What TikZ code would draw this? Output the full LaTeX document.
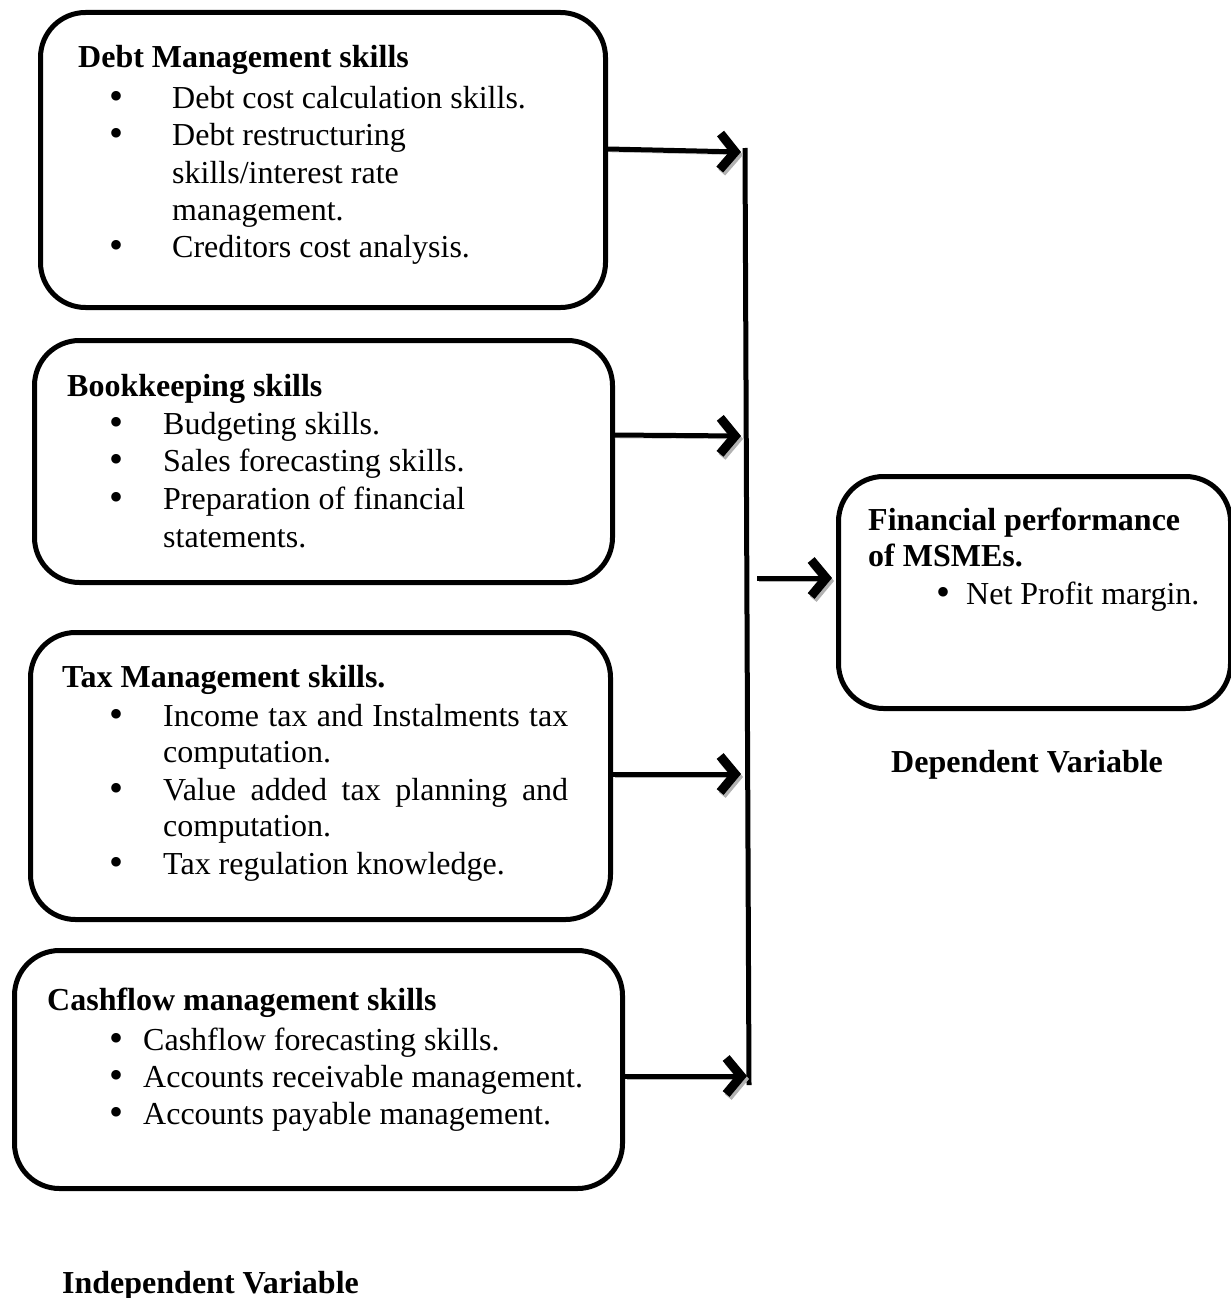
\documentclass[tikz,border=0pt]{standalone}
\usepackage{fontspec}
\setmainfont{Liberation Serif}
\usetikzlibrary{arrows.meta}
\tikzset{
  box/.style={draw, line width=5pt, rounded corners=45pt, anchor=north west, inner sep=0pt},
  txt/.style={anchor=base west, inner sep=0pt, font=\fontsize{32}{37}\selectfont},
  hd/.style={txt, font=\fontsize{32}{37}\selectfont\bfseries},
  bul/.style={anchor=base, inner sep=0pt, font=\fontsize{40}{37}\selectfont},
  arr/.style={line width=5pt, -{Straight Barb[length=15pt,width=36pt,line width=9pt]},
    preaction={draw=gray!60, transform canvas={shift={(2,3)}}}},
  bus/.style={line width=5pt}
}
\begin{document}
\begin{tikzpicture}[x=1pt,y=-1pt]
\useasboundingbox (0,0) rectangle (1231,1298);
% boxes
\node[box, minimum width=565pt, minimum height=295pt] (b1) at (38,10) {};
\node[box, minimum width=578pt, minimum height=242pt] (b2) at (32,338) {};
\node[box, minimum width=580pt, minimum height=287pt] (b3) at (28,630) {};
\node[box, minimum width=608pt, minimum height=238pt] (b4) at (12,948) {};
\node[box, minimum width=392pt, minimum height=232pt] (b5) at (836,474) {};
% box 1 text
\node[hd] (h1) at (78,67) {Debt Management skills};
\node[bul] (p11) at (117,109) {•}; \node[txt] (t11) at (172,108) {Debt cost calculation skills.};
\node[bul] (p12) at (117,146) {•}; \node[txt] (t12) at (172,145) {Debt restructuring};
\node[txt] (t13) at (172,183) {skills/interest rate};
\node[txt] (t14) at (172,220) {management.};
\node[bul] (p13) at (117,258) {•}; \node[txt] (t15) at (172,257) {Creditors cost analysis.};
% box 2 text
\node[hd] (h2) at (67,396) {Bookkeeping skills};
\node[bul] (p21) at (117,435) {•}; \node[txt] (t21) at (163,434) {Budgeting skills.};
\node[bul] (p22) at (117,472) {•}; \node[txt] (t22) at (163,471) {Sales forecasting skills.};
\node[bul] (p23) at (117,510) {•}; \node[txt] (t23) at (163,509) {Preparation of financial};
\node[txt] (t24) at (163,547) {statements.};
% box 3 text
\node[hd] (h3) at (62,687) {Tax Management skills.};
\node[bul] (p31) at (117,727) {•}; \node[txt] (t31) at (163,726) {\makebox[405pt][s]{Income tax and Instalments tax}};
\node[txt] (t32) at (163,762) {computation.};
\node[bul] (p32) at (117,801) {•}; \node[txt] (t33) at (163,800) {\makebox[405pt][s]{Value added tax planning and}};
\node[txt] (t34) at (163,836) {computation.};
\node[bul] (p33) at (117,875) {•}; \node[txt] (t35) at (163,874) {Tax regulation knowledge.};
% box 4 text
\node[hd] (h4) at (47,1010) {Cashflow management skills};
\node[bul] (p41) at (117,1051) {•}; \node[txt] (t41) at (143,1050) {Cashflow forecasting skills.};
\node[bul] (p42) at (117,1088) {•}; \node[txt] (t42) at (143,1087) {Accounts receivable management.};
\node[bul] (p43) at (117,1125) {•}; \node[txt] (t43) at (143,1124) {Accounts payable management.};
% box 5 text
\node[hd] (h5) at (868,530) {Financial performance};
\node[hd] (h6) at (868,566) {of MSMEs.};
\node[bul] (p51) at (943,605) {•}; \node[txt] (t51) at (966,604) {Net Profit margin.};
% labels
\node[hd] (dv) at (891,772) {Dependent Variable};
\node[hd] (iv) at (62,1293) {Independent Variable};
% bus
\coordinate (top) at (745,148);
\coordinate (bot) at (749,1085);
\draw[bus] (top) -- (bot);
\coordinate (e1) at (741,152);
\coordinate (e2) at (741,436);
\coordinate (e3) at (741,774);
\coordinate (e4) at (747,1076);
\coordinate (s5) at (757,578);
\draw[arr] (b1.east |- 0,149) -- (e1);
\draw[arr] (612,435) -- (e2);
\draw[arr] (b3.east |- e3) -- (e3);
\draw[arr] (b4.east |- e4) -- (e4);
\draw[arr] (s5) -- ([xshift=-4pt]b5.west |- s5);
\end{tikzpicture}
\end{document}
